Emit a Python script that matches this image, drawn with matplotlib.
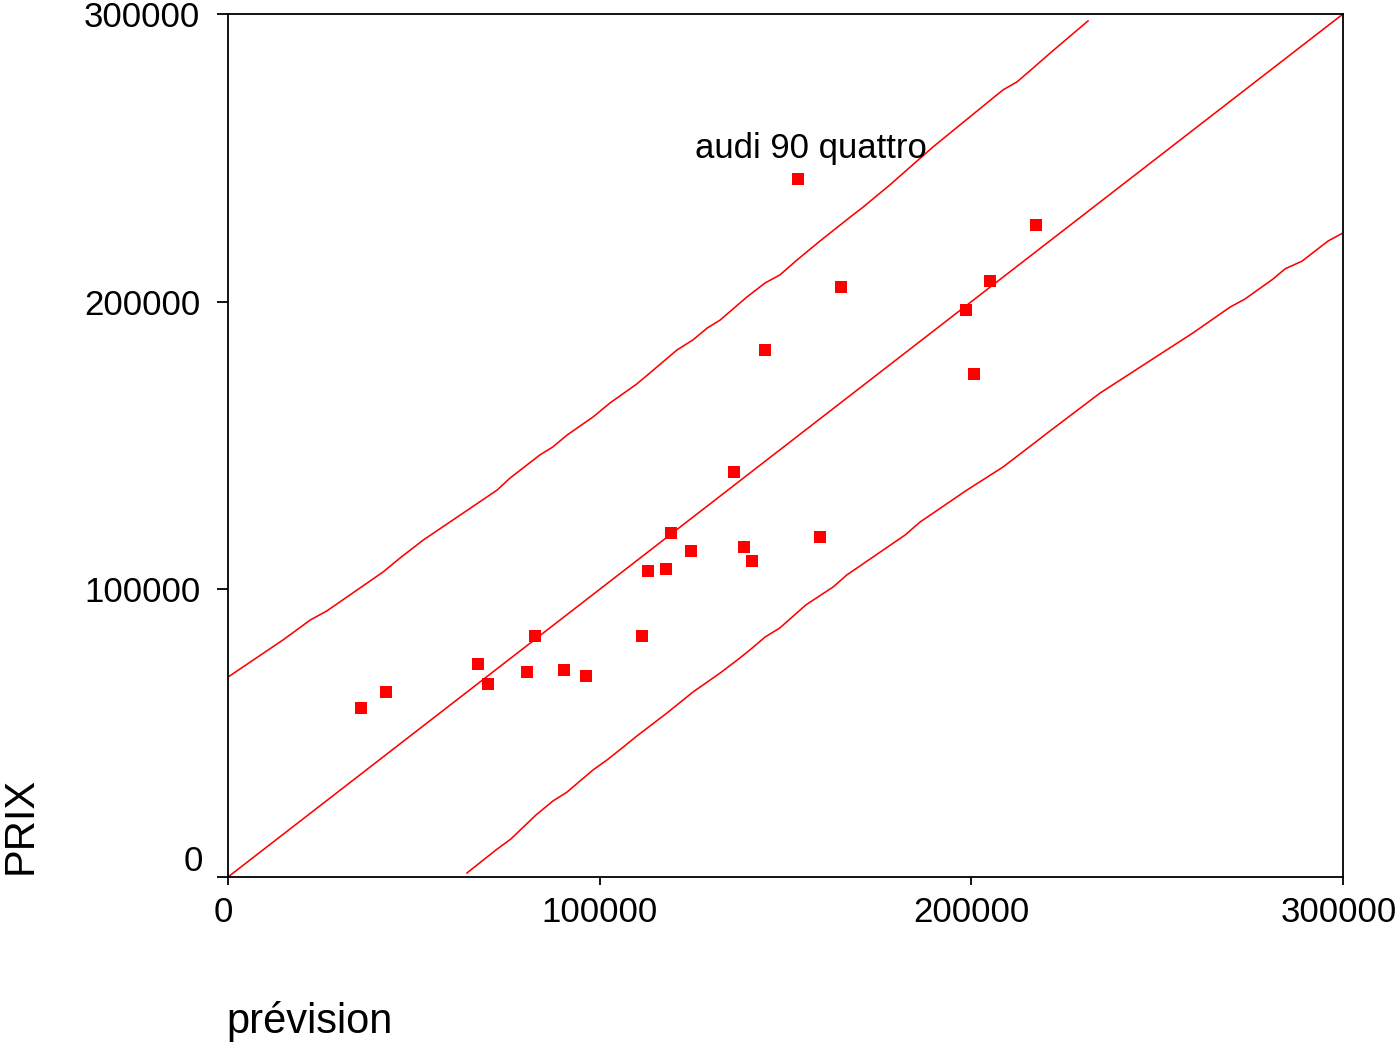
import matplotlib
matplotlib.use("Agg")
import matplotlib.pyplot as plt
from matplotlib.transforms import ScaledTranslation

plt.rcParams["font.family"] = ["Liberation Sans", "DejaVu Sans"]

RED = "#ff0000"

prevision = [35800, 42400, 67200, 69900, 80400, 82600, 90400, 96400, 111300,
             113000, 117900, 119100, 124600, 136100, 138900, 141100, 144400,
             153300, 159300, 164900, 198500, 200600, 205100, 217300]
prix = [58900, 64400, 74000, 67200, 71300, 83700, 71900, 69900, 83700,
        106500, 107200, 119600, 113400, 140900, 114700, 110000, 183100,
        242500, 118200, 205200, 197100, 174900, 207300, 226600]

# identity line
fit_x = [0, 300000]
fit_y = [0, 300000]

# upper prediction band
upper_x = [0, 14800, 22100, 26600, 41700, 46300, 52500, 72400, 75900, 83900,
           87400, 91200, 98200, 102800, 110000, 113500, 120800, 125100, 128900,
           132400, 139600, 144500, 148500, 153100, 159300, 167400, 170900,
           178100, 189700, 208500, 212300, 216600, 221200, 231400]
upper_y = [69500, 82400, 89300, 92500, 106000, 110900, 117100, 134500, 138700,
           146700, 149500, 153600, 159900, 164800, 171400, 175200, 183200,
           186700, 190800, 193600, 201600, 206500, 209300, 214500, 221100,
           229400, 232900, 240600, 253800, 273600, 276400, 281200, 286400,
           297600]

# lower prediction band
lower_x = [64300, 72100, 76100, 82900, 87400, 91200, 98200, 102000, 106000,
           110000, 118100, 125100, 132400, 137000, 140400, 144500, 148500,
           155500, 162800, 166500, 182200, 186200, 198800, 208500, 216600,
           220400, 234600, 259600, 269600, 273600, 281200, 284400, 289000,
           296000, 300000]
lower_y = [1400, 9400, 13200, 21600, 26400, 29500, 37200, 40700, 44800, 49000,
           57000, 64300, 70900, 75400, 78900, 83400, 86600, 94600, 100800,
           105000, 118900, 123400, 134500, 142500, 150500, 154300, 168200,
           189100, 198100, 200900, 207900, 211400, 214100, 221100, 223900]

ticks = [0, 100000, 200000, 300000]
tick_labels = ["0", "100000", "200000", "300000"]

fig = plt.figure(figsize=(13.98, 10.45), dpi=100)
ax = fig.add_axes([228 / 1398, 1 - 877 / 1045, 1115 / 1398, 863 / 1045])

ax.plot(fit_x, fit_y, color=RED, lw=1.15, zorder=2)
ax.plot(upper_x, upper_y, color=RED, lw=1.15, zorder=2)
ax.plot(lower_x, lower_y, color=RED, lw=1.15, zorder=2)
ax.plot(prevision, prix, "s", color=RED, ms=8.6, mew=0, zorder=3)

ax.annotate("audi 90 quattro", xy=(prevision[17], prix[17]),
            xytext=(-74, 22.5), textcoords="offset points",
            ha="left", va="center", fontsize=25)

ax.set_xlim(0, 300000)
ax.set_ylim(0, 300000)
ax.set_xticks(ticks)
ax.set_xticklabels(tick_labels)
ax.set_yticks(ticks)
ax.set_yticklabels(tick_labels)
ax.tick_params(axis="x", direction="out", length=5.8, width=1.3, pad=8, labelsize=25)
ax.tick_params(axis="y", direction="out", length=7.9, width=1.3, pad=12, labelsize=25)
for s in ax.spines.values():
    s.set_linewidth(1.3)
    s.set_color("black")

# SPSS lifts the y "0" label above its tick
zero = ax.yaxis.get_major_ticks()[0].label1
zero.set_transform(zero.get_transform() + ScaledTranslation(0.03, 0.19, fig.dpi_scale_trans))
# x labels at the ends sit a little to the left
for t in (ax.xaxis.get_major_ticks()[0], ax.xaxis.get_major_ticks()[-1]):
    lab = t.label1
    lab.set_transform(lab.get_transform() + ScaledTranslation(-0.045, 0, fig.dpi_scale_trans))

fig.text(21 / 1398, 1 - 874 / 1045, "PRIX", rotation=90, ha="center", va="bottom",
         fontsize=30)
fig.text(226 / 1398, 1 - 1033 / 1045, "prévision", ha="left", va="baseline",
         fontsize=30)

fig.savefig("out.png", dpi=100, facecolor="white")
